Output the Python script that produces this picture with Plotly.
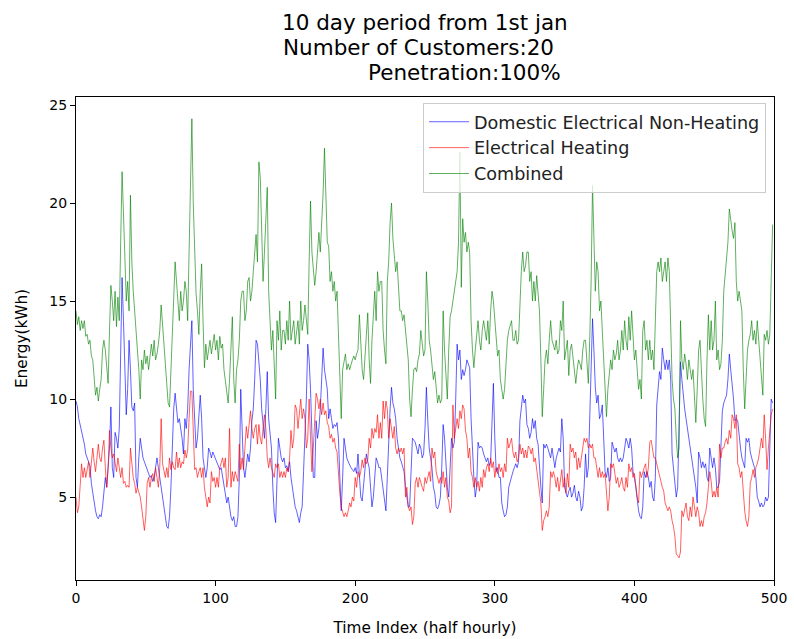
import plotly.graph_objects as go

# Half-hourly energy (kWh) over 10 days, 20 customers
domestic = [
    9.9, 9.6, 9.0, 8.7, 8.4, 8.0, 7.7, 7.2, 7.0, 6.8, 6.6, 5.7, 5.2, 4.7, 4.3, 4.0, 3.9, 4.1, 4.0, 4.5,
    5.5, 6.0, 5.5, 6.3, 7.5, 9.6, 6.5, 6.0, 8.3, 8.0, 7.5, 8.5, 12.0, 16.2, 14.0, 11.0, 9.2, 10.5, 13.0, 11.5,
    9.6, 9.4, 9.8, 6.0, 5.5, 7.0, 8.0, 7.5, 7.0, 6.8, 6.6, 6.5, 6.3, 6.0, 6.1, 5.8, 6.0, 6.4, 7.0, 6.5,
    6.0, 5.5, 5.0, 4.5, 4.0, 3.5, 3.4, 4.0, 5.5, 7.5, 9.5, 10.3, 9.6, 8.8, 9.0, 8.5, 8.0, 7.2, 9.0, 8.5,
    9.5, 11.5, 13.0, 14.0, 10.5, 8.5, 7.5, 8.0, 9.0, 10.2, 9.0, 7.0, 6.5, 6.0, 6.5, 7.5, 7.3, 7.0, 7.3, 7.1,
    7.0, 6.8, 6.5, 6.4, 6.5, 6.0, 5.5, 5.0, 4.7, 5.0, 4.5, 4.0, 3.8, 4.0, 3.5, 3.5, 4.0, 6.0, 10.5, 8.0,
    6.5, 6.0, 6.8, 7.2, 6.8, 7.5, 8.9, 9.5, 11.0, 13.0, 12.8, 12.0, 11.0, 9.5, 8.5, 8.0, 9.5, 11.4, 9.0, 8.0,
    7.5, 5.5, 4.2, 3.7, 5.5, 8.0, 7.5, 7.0, 6.8, 7.0, 6.5, 6.6, 6.3, 6.8, 6.0, 5.5, 5.0, 4.5, 4.3, 4.0,
    3.7, 4.2, 4.5, 6.3, 8.0, 10.0, 12.8, 12.0, 10.5, 8.0, 6.0, 6.0, 8.9, 8.0, 8.5, 9.5, 11.0, 12.6, 11.5, 11.0,
    10.5, 9.0, 9.5, 9.0, 8.5, 8.7, 8.6, 8.8, 8.0, 6.0, 4.3, 6.0, 8.0, 7.5, 7.0, 6.8, 6.6, 6.5, 6.4, 6.3,
    6.5, 6.2, 7.2, 6.0, 5.0, 4.8, 5.5, 6.3, 7.2, 6.8, 6.5, 5.5, 4.5, 5.0, 6.0, 7.0, 6.8, 6.5, 6.5, 6.0,
    5.5, 5.0, 4.3, 6.0, 8.0, 9.5, 10.6, 9.8, 9.5, 9.0, 8.0, 7.5, 7.0, 6.8, 6.5, 6.3, 5.5, 5.0, 4.5, 4.5,
    6.0, 8.0, 7.9, 7.8, 7.5, 7.2, 7.7, 7.5, 7.0, 7.2, 8.5, 10.6, 8.9, 7.5, 7.0, 6.5, 5.5, 5.2, 4.5, 4.4,
    4.6, 5.0, 6.5, 8.7, 8.0, 6.3, 5.5, 5.0, 6.5, 8.0, 7.5, 7.8, 10.0, 12.8, 12.0, 12.5, 11.0, 11.5, 11.2, 11.5,
    12.0, 11.8, 11.6, 9.0, 7.2, 6.0, 5.0, 5.5, 7.8, 7.5, 7.6, 7.5, 7.2, 7.0, 6.8, 7.0, 6.6, 6.8, 8.5, 10.8,
    8.0, 6.3, 6.5, 6.0, 6.0, 4.7, 4.3, 4.0, 4.1, 4.5, 5.5, 5.8, 6.0, 6.3, 6.5, 6.7, 6.5, 6.8, 8.9, 9.5,
    10.2, 9.8, 10.0, 8.7, 8.5, 8.0, 8.3, 9.0, 8.5, 8.9, 8.0, 7.7, 6.3, 5.5, 4.7, 7.7, 7.5, 7.7, 7.5, 7.3,
    7.0, 7.5, 7.0, 6.5, 7.0, 7.2, 7.5, 7.3, 9.0, 8.0, 5.5, 5.2, 5.0, 5.3, 5.5, 5.0, 5.2, 5.6, 5.0, 4.8,
    5.3, 5.0, 4.3, 4.5, 5.5, 7.2, 6.0, 6.5, 9.0, 12.0, 14.1, 12.5, 10.6, 9.8, 10.2, 9.0, 9.2, 9.7, 7.7, 6.3,
    6.0, 6.5, 5.8, 6.0, 7.8, 7.5, 7.3, 7.5, 7.0, 6.8, 7.0, 6.8, 7.0, 7.5, 8.0, 7.8, 7.5, 8.0, 7.5, 6.3,
    6.0, 5.5, 4.7, 4.3, 4.0, 3.9, 4.5, 6.3, 6.0, 6.3, 6.0, 5.5, 5.8, 5.0, 4.8, 6.0, 9.7, 10.5, 11.4, 11.0,
    12.6, 12.0, 11.5, 12.0, 11.5, 12.0, 11.0, 7.2, 6.5, 6.0, 5.0, 5.5, 9.0, 11.9, 11.0, 10.0, 9.5, 9.0, 8.5, 8.0,
    7.5, 7.0, 6.7, 6.0, 5.5, 4.7, 7.3, 7.0, 6.5, 6.8, 6.5, 6.7, 6.0, 5.8, 7.5, 7.0, 6.5, 7.0, 6.5, 5.5,
    5.5, 5.8, 7.5, 9.4, 9.8, 10.0, 10.2, 11.0, 12.3, 11.5, 10.8, 10.0, 8.9, 9.0, 8.9, 8.0, 7.5, 7.0, 6.8, 6.5,
    8.0, 7.8, 8.0, 7.3, 7.0, 6.8, 6.5, 6.0, 5.0, 4.8, 4.5, 4.7, 4.5, 4.6, 5.0, 4.8, 5.0, 7.5, 10.0, 9.8,
]

heating = [
    5.0, 4.2, 4.5, 5.5, 6.7, 6.0, 6.5, 6.0, 6.4, 6.8, 6.0, 6.8, 7.5, 6.8, 6.3, 7.0, 7.7, 7.0, 6.8, 7.5,
    7.9, 6.5, 5.5, 6.5, 8.4, 7.5, 7.0, 7.2, 6.8, 6.3, 7.0, 6.5, 6.0, 6.5, 5.7, 5.8, 5.5, 5.6, 5.5, 7.5,
    6.5, 6.0, 5.7, 5.2, 5.5, 5.2, 5.0, 4.5, 3.8, 3.3, 4.0, 5.7, 6.0, 5.5, 6.0, 6.2, 5.8, 6.5, 6.0, 5.5,
    6.5, 9.0, 6.7, 6.3, 6.0, 6.5, 6.0, 7.0, 6.4, 6.8, 6.5, 6.4, 7.3, 6.5, 7.0, 6.5, 6.8, 6.7, 7.4, 7.0,
    7.4, 9.0, 10.4, 10.4, 8.0, 6.4, 6.5, 6.0, 6.3, 6.5, 6.0, 6.5, 5.5, 5.0, 4.5, 5.0, 4.7, 6.3, 5.8, 6.0,
    5.5, 6.0, 5.5, 6.5, 6.8, 7.0, 6.5, 7.0, 5.5, 6.0, 8.5, 5.5, 6.3, 5.8, 6.3, 6.0, 5.8, 7.7, 6.4, 7.0,
    6.4, 7.5, 8.6, 8.0, 8.6, 9.4, 8.5, 8.0, 8.5, 8.7, 7.7, 8.7, 8.0, 7.7, 8.5, 9.2, 8.5, 7.0, 6.5, 7.0,
    6.5, 6.3, 6.0, 6.7, 6.5, 6.7, 6.0, 6.3, 6.0, 6.3, 6.0, 6.5, 6.3, 7.0, 8.4, 7.5, 8.0, 9.7, 9.5, 8.5,
    9.2, 10.0, 9.0, 9.5, 9.0, 7.5, 8.0, 10.0, 8.0, 6.3, 7.5, 9.0, 10.3, 10.0, 9.5, 10.0, 9.2, 9.8, 9.2, 9.4,
    8.8, 8.6, 8.0, 8.2, 7.8, 8.0, 7.5, 7.3, 6.0, 5.2, 4.5, 4.3, 4.0, 4.2, 4.0, 4.3, 4.7, 4.5, 5.0, 4.8,
    6.0, 5.5, 6.3, 6.0, 6.3, 6.9, 6.5, 7.0, 6.7, 6.9, 8.0, 7.5, 8.5, 8.0, 8.5, 8.3, 9.2, 8.0, 8.8, 8.0,
    9.9, 9.0, 9.9, 9.5, 8.0, 9.0, 8.6, 8.0, 8.6, 7.5, 7.2, 7.5, 7.3, 7.5, 7.2, 7.5, 5.0, 5.5, 4.5, 4.3,
    4.5, 3.6, 4.0, 5.7, 6.0, 5.5, 6.0, 5.7, 5.5, 5.3, 6.0, 5.7, 6.0, 6.3, 5.8, 7.5, 7.0, 7.3, 6.3, 6.0,
    5.7, 6.0, 5.7, 6.3, 5.5, 6.0, 5.0, 4.8, 4.2, 4.5, 9.7, 8.0, 8.4, 9.0, 8.5, 9.4, 9.0, 9.7, 9.5, 8.4,
    8.0, 7.0, 7.5, 6.3, 6.0, 5.5, 6.0, 5.5, 5.8, 5.3, 6.0, 5.5, 6.4, 6.0, 6.5, 6.7, 6.3, 7.0, 6.5, 6.8,
    6.0, 6.5, 6.2, 6.7, 6.3, 6.5, 6.0, 6.7, 6.3, 8.0, 7.5, 7.7, 8.0, 7.3, 7.0, 7.3, 6.8, 7.0, 7.7, 7.2,
    7.5, 7.0, 7.4, 7.0, 7.6, 7.5, 7.2, 7.5, 6.8, 7.0, 6.4, 6.0, 5.5, 4.7, 3.3, 3.8, 4.0, 4.3, 4.0, 4.5,
    6.3, 6.0, 6.3, 6.0, 5.5, 6.0, 5.3, 5.8, 6.4, 5.5, 6.0, 5.2, 6.2, 5.5, 7.7, 7.3, 7.5, 7.0, 7.3, 6.4,
    7.0, 6.5, 7.0, 7.5, 8.0, 7.8, 8.0, 7.5, 7.7, 7.5, 7.7, 7.0, 7.0, 6.5, 6.0, 6.5, 6.0, 6.3, 6.0, 6.2,
    5.0, 4.3, 5.0, 6.7, 6.5, 6.7, 6.2, 5.7, 6.0, 5.5, 5.7, 6.0, 5.5, 5.3, 6.0, 5.5, 6.7, 6.3, 6.5, 6.0,
    6.2, 5.5, 5.0, 4.7, 6.3, 6.0, 6.3, 6.5, 6.7, 6.0, 6.5, 7.8, 7.9, 7.5, 7.0, 7.0, 6.7, 6.4, 6.0, 5.7,
    5.5, 5.3, 4.7, 4.5, 4.3, 4.5, 4.3, 3.8, 3.5, 3.0, 2.1, 2.0, 1.9, 2.2, 4.3, 4.0, 4.3, 4.7, 4.0, 3.8,
    4.5, 4.0, 5.0, 4.5, 4.0, 4.5, 4.2, 3.5, 3.8, 3.5, 4.0, 4.2, 4.7, 5.5, 6.3, 5.8, 5.0, 5.3, 5.0, 5.5,
    5.0, 7.7, 7.0, 7.5, 7.5, 7.8, 8.0, 7.7, 8.4, 8.0, 9.2, 9.0, 8.5, 9.2, 6.7, 6.5, 6.0, 6.3, 5.0, 4.3,
    3.8, 3.5, 4.0, 5.7, 6.0, 6.4, 6.0, 6.5, 6.7, 7.0, 7.5, 8.0, 7.5, 9.2, 8.0, 6.4, 7.5, 8.5, 9.2, 9.5,
]

combined = [
    14.5, 13.8, 14.2, 13.5, 14.0, 13.6, 14.0, 13.2, 13.3, 12.8, 13.0, 12.2, 12.0, 11.0, 10.2, 10.6, 9.9, 10.5, 11.0, 12.5,
    13.0, 12.5, 11.5, 10.8, 13.5, 15.8, 15.0, 14.0, 15.5, 13.7, 15.2, 14.0, 18.0, 21.6, 19.5, 16.5, 15.0, 16.0, 14.5, 20.4,
    17.0, 15.5, 14.5, 14.0, 12.5, 11.5, 10.0, 12.0, 11.5, 12.5, 11.8, 12.2, 11.5, 12.3, 12.8, 12.2, 13.0, 12.0, 12.3, 12.8,
    13.5, 14.8, 13.8, 12.5, 11.5, 10.8, 9.8, 9.6, 11.5, 13.5, 15.2, 17.0, 16.0, 15.0, 14.0, 15.5, 14.5, 15.0, 16.0, 15.5,
    14.0, 17.5, 21.0, 24.3, 20.0, 17.0, 15.4, 14.5, 13.3, 15.5, 16.9, 14.0, 11.6, 12.8, 12.0, 12.5, 13.0, 12.3, 12.8, 13.3,
    12.5, 13.0, 12.0, 13.2, 12.6, 12.8, 11.5, 11.0, 10.5, 9.8, 11.0, 12.5, 14.2, 11.0, 9.8, 11.5, 12.0, 13.0, 15.0, 15.5,
    15.5, 14.0, 14.5, 16.0, 16.2, 15.0, 15.5, 16.5, 17.5, 18.4, 17.0, 22.1, 21.3, 19.0, 16.0, 17.5, 19.5, 20.8, 15.5, 14.0,
    12.5, 13.5, 12.0, 10.0, 14.0, 13.0, 14.5, 12.5, 13.5, 13.5, 12.8, 14.0, 13.0, 15.0, 13.0, 13.5, 14.0, 12.8, 13.3, 14.0,
    12.8, 15.0, 13.5, 14.0, 14.8, 14.0, 13.3, 17.0, 20.1, 17.5, 16.5, 15.8, 16.5, 17.5, 18.5, 17.5, 19.0, 20.5, 22.8, 20.0,
    18.0, 17.8, 16.0, 16.5, 15.5, 16.0, 15.0, 15.5, 13.0, 10.5, 9.0, 11.5, 12.0, 12.3, 11.5, 11.8, 11.5, 11.8, 12.0, 12.2,
    12.0, 12.3, 12.5, 14.3, 13.0, 11.5, 11.0, 12.2, 13.5, 14.4, 12.0, 10.8, 13.0, 14.5, 15.5, 14.0, 16.5, 15.5, 16.0, 16.0,
    13.5, 12.5, 11.8, 16.0, 17.0, 19.0, 20.0, 18.2, 17.5, 16.5, 17.0, 15.5, 14.5, 14.5, 14.0, 14.3, 13.5, 13.0, 12.0, 10.0,
    9.1, 10.5, 11.5, 11.6, 11.4, 12.0, 12.3, 13.5, 12.8, 12.2, 12.5, 16.5, 15.0, 13.0, 12.5, 11.5, 11.0, 11.4, 10.5, 9.8,
    10.2, 9.8, 10.0, 14.5, 12.5, 11.0, 10.0, 12.5, 14.2, 14.5, 15.0, 15.5, 16.0, 16.5, 18.0, 22.6, 15.7, 19.2, 18.0, 18.5,
    17.5, 18.0, 17.5, 14.0, 12.5, 11.6, 12.5, 13.5, 14.0, 13.0, 12.5, 13.5, 14.0, 13.5, 13.0, 14.0, 12.8, 14.5, 15.5, 15.0,
    14.0, 13.0, 12.2, 12.5, 11.0, 10.5, 10.0, 10.5, 12.0, 13.0, 13.5, 13.8, 14.0, 13.0, 13.0, 13.5, 12.8, 13.0, 15.0, 16.5,
    17.5, 16.5, 16.8, 17.5, 17.5, 16.0, 16.5, 15.0, 16.0, 15.0, 16.3, 15.5, 14.5, 12.0, 9.1, 10.5, 12.0, 12.5, 11.8, 13.0,
    14.0, 13.0, 12.8, 12.5, 13.0, 12.3, 12.5, 14.0, 13.5, 15.0, 12.0, 12.5, 13.0, 11.2, 12.5, 12.8, 12.0, 11.5, 10.8, 11.5,
    12.0, 11.8, 11.5, 12.5, 13.0, 13.0, 11.5, 10.8, 13.0, 16.0, 20.9, 18.5, 15.5, 17.0, 16.5, 14.5, 15.0, 13.5, 12.0, 10.0,
    9.1, 10.5, 11.5, 12.0, 11.5, 12.5, 12.0, 12.3, 13.0, 12.0, 12.5, 13.5, 12.5, 14.0, 13.0, 12.5, 14.2, 13.0, 14.5, 13.0,
    12.0, 12.5, 11.5, 10.5, 11.0, 10.0, 13.5, 14.0, 12.5, 13.0, 12.0, 13.0, 12.0, 12.5, 11.5, 14.5, 16.5, 17.0, 16.5, 17.2,
    16.0, 16.5, 17.0, 16.0, 17.2, 16.5, 13.0, 11.0, 10.0, 9.5, 8.0, 7.0, 7.5, 14.0, 12.0, 11.5, 12.3, 11.8, 11.0, 12.0,
    11.5, 11.0, 11.5, 10.0, 8.8, 10.5, 12.5, 13.0, 11.0, 10.0, 9.0, 8.6, 12.0, 14.3, 12.5, 14.0, 12.5, 13.0, 15.0, 12.0,
    12.5, 11.5, 11.8, 13.0, 15.5, 16.5, 17.5, 18.0, 19.7, 19.0, 18.6, 18.2, 19.0, 16.0, 15.0, 15.5, 15.0, 14.5, 11.5, 9.5,
    11.0, 12.5, 13.0, 13.3, 14.0, 13.0, 13.5, 12.8, 14.0, 13.0, 12.5, 11.0, 10.2, 13.3, 13.0, 13.5, 12.8, 13.3, 16.0, 18.9,
]

assert len(domestic) == len(heating) == len(combined) == 500
time_index = list(range(len(domestic)))

series_names = ["Domestic Electrical Non-Heating", "Electrical Heating", "Combined"]
series_colors = ["rgba(0,0,255,0.62)", "rgba(255,0,0,0.62)", "rgba(0,128,0,0.62)"]
x_ticks = [0, 100, 200, 300, 400, 500]
y_ticks = [5, 10, 15, 20, 25]

FONT = "DejaVu Sans"

fig = go.Figure()
for name, values, color in zip(series_names, [domestic, heating, combined], series_colors):
    fig.add_trace(go.Scatter(
        x=time_index, y=values, mode="lines", name=name,
        line=dict(color=color, width=1),
    ))

axis_common = dict(
    showline=True, linecolor="black", linewidth=1, mirror=True,
    ticks="outside", ticklen=5, tickwidth=1, tickcolor="black",
    showgrid=False, zeroline=False, automargin=False,
    tickfont=dict(family=FONT, size=14, color="black"),
)

fig.update_layout(
    width=794, height=639,
    margin=dict(l=76, r=20, t=97, b=59),
    paper_bgcolor="white", plot_bgcolor="white",
    font=dict(family=FONT, color="black"),
    showlegend=True,
    legend=dict(
        x=0.9885, y=0.988, xanchor="right", yanchor="top",
        bgcolor="rgba(255,255,255,0.8)", bordercolor="#cccccc", borderwidth=1,
        font=dict(family=FONT, size=17.6, color="#222"),
        tracegroupgap=0, itemwidth=40,
    ),
    xaxis=dict(range=[0, 500], tickvals=x_ticks,
               title=dict(text="Time Index (half hourly)", font=dict(family=FONT, size=15.3), standoff=17),
               **axis_common),
    yaxis=dict(range=[0.77, 25.41], tickvals=y_ticks,
               title=dict(text="Energy(kWh)", font=dict(family=FONT, size=15.3), standoff=18),
               **axis_common),
)

title_lines = ["10 day period from 1st jan", "Number of Customers:20", "Penetration:100%"]
title_x = [0.5, 0.491, 0.556]
title_y = [1.155, 1.1035, 1.05]
for text, tx, ty in zip(title_lines, title_x, title_y):
    fig.add_annotation(
        text=text, x=tx, y=ty, xref="paper", yref="paper",
        xanchor="center", yanchor="middle", showarrow=False,
        font=dict(family=FONT, size=21.5, color="black"),
    )

fig.write_html("out.html")
